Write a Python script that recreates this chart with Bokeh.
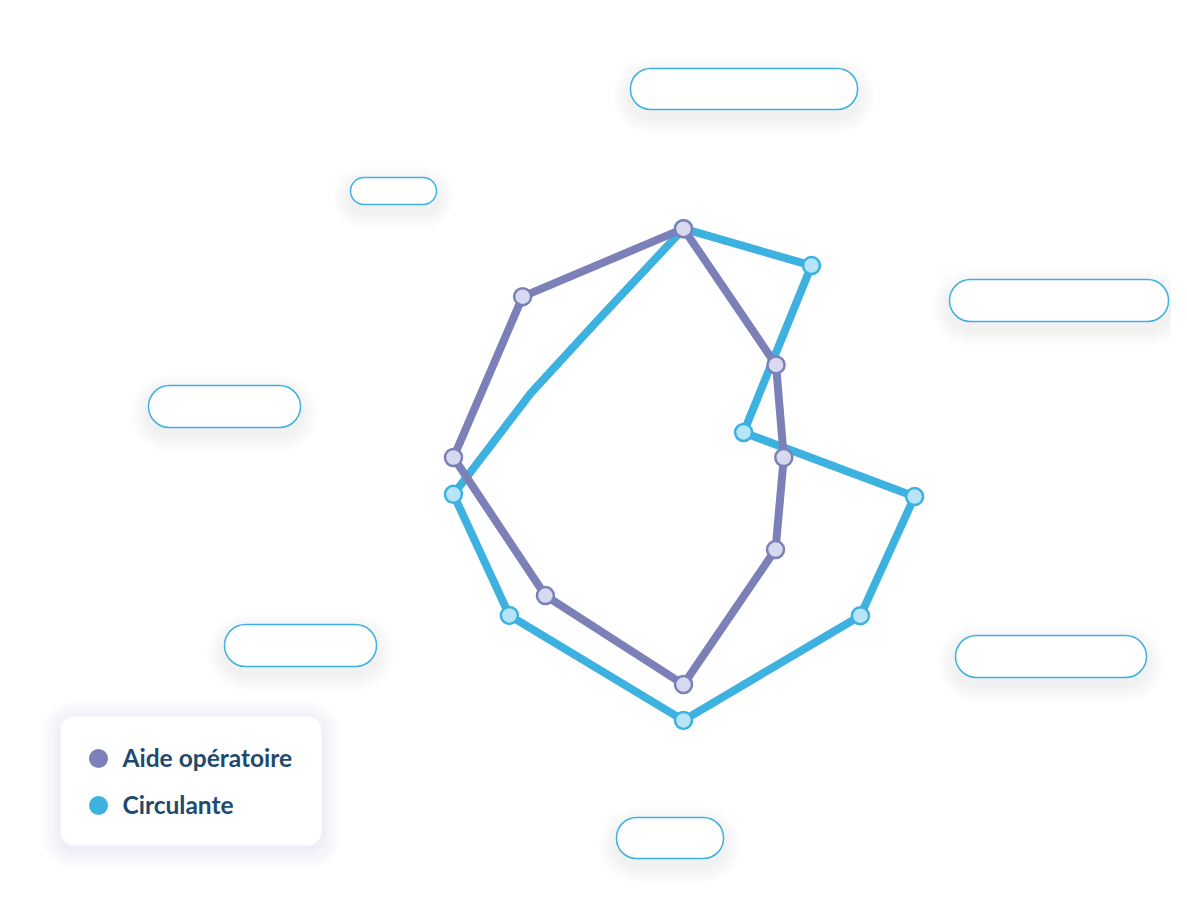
import math
from bokeh.plotting import figure
from bokeh.models import Range1d, BoxAnnotation
from bokeh.core.properties import value
from bokeh.embed import file_html
from bokeh.resources import INLINE

# ---------------- data ----------------
series_names = ["Aide opératoire", "Circulante"]

# Aide opératoire: 8 axes (degrees clockwise from top) and values (0-10 scale)
aide_angles = [0, 45, 90, 135, 180, 225, 270, 315]
aide_values = [9.95, 5.69, 4.36, 5.66, 9.87, 8.49, 10.0, 9.89]

# Circulante: vertices (degrees clockwise from top) and values
circ_angles = [0, 33.7, 67.4, 99.6, 131.8, 180, 227.8, 260.9, 292.7, 327.9]
circ_values = [9.95, 10.03, 2.83, 10.19, 10.32, 11.43, 10.22, 10.13, 7.21, 7.03]
circ_marker = [1, 1, 1, 1, 1, 1, 1, 1, 0, 0]

# empty category label pills: (left, top, right, bottom) in page pixels
label_boxes = [
    (630, 68, 857, 109),
    (350, 177, 436, 204),
    (949, 279, 1168, 321),
    (148, 385, 300, 427),
    (224, 624, 376, 666),
    (955, 635, 1146, 677),
    (616, 817, 723, 858),
]

# ---------------- styles ----------------
PURPLE = "#7b80b8"
PURPLE_FILL = "#d7daee"
CYAN = "#3db1df"
CYAN_FILL = "#b6e4f8"
TEXT = "#1f4a6d"

W, H = 1171, 893
PAGE_H = 909
CX, CY = 683, 457          # radar centre (page pixels)
PX_PER_UNIT = 23.0


def py(Y):
    return PAGE_H - Y


p = figure(width=W, height=H, output_backend="svg", toolbar_location=None,
           x_range=Range1d(0, W), y_range=Range1d(PAGE_H - H, PAGE_H),
           min_border=0)
p.axis.visible = False
p.grid.visible = False
p.outline_line_color = None
p.background_fill_color = "white"
p.border_fill_color = "white"


def polar_xy(angles, vals):
    xs, ys = [], []
    for a, v in zip(angles, vals):
        r = v * PX_PER_UNIT
        t = math.radians(a)
        xs.append(CX + r * math.sin(t))
        ys.append(py(CY) + r * math.cos(t))
    return xs, ys


def shadow_box(l, t, r, b, rad, layers=7, dy=7, alpha=0.011):
    for k in range(layers, 0, -1):
        e = k * 2.5
        p.add_layout(BoxAnnotation(left=l - e, right=r + e,
                                   top=py(t - e + dy), bottom=py(b + e + dy),
                                   border_radius=int(round(rad + e)),
                                   fill_color="#303840", fill_alpha=alpha,
                                   line_color=None, level="underlay"))


# label pills
for (l, t, r, b) in label_boxes:
    h = b - t
    shadow_box(l, t, r, b, h / 2)
    p.add_layout(BoxAnnotation(left=l, right=r, top=py(t), bottom=py(b),
                               border_radius=int(round(h / 2)),
                               fill_color="white", fill_alpha=1,
                               line_color=CYAN, line_alpha=1, line_width=1.5,
                               level="underlay"))

# radar series
ax, ay = polar_xy(aide_angles + aide_angles[:1], aide_values + aide_values[:1])
cx_, cy_ = polar_xy(circ_angles + circ_angles[:1], circ_values + circ_values[:1])

p.line(cx_, cy_, line_color=CYAN, line_width=8, line_join="round", line_cap="round")
p.line(ax, ay, line_color=PURPLE, line_width=8, line_join="round", line_cap="round")

mx, my = polar_xy([a for a, m in zip(circ_angles, circ_marker) if m],
                  [v for v, m in zip(circ_values, circ_marker) if m])
p.scatter(mx, my, marker="circle", size=17, fill_color=CYAN_FILL,
          line_color=CYAN, line_width=2.5)
px_, py_ = polar_xy(aide_angles, aide_values)
p.scatter(px_, py_, marker="circle", size=17, fill_color=PURPLE_FILL,
          line_color=PURPLE, line_width=2.5)

# legend box
LL, LT, LR, LB = 60, 716, 321, 845
shadow_box(LL, LT, LR, LB, 14, layers=8, dy=4, alpha=0.007)
p.add_layout(BoxAnnotation(left=LL, right=LR, top=py(LT), bottom=py(LB),
                           border_radius=14, fill_color="white", fill_alpha=1,
                           line_color=None, level="underlay"))

leg_y = [758, 805]
leg_colors = [PURPLE, CYAN]
p.scatter([98, 98], [py(y) for y in leg_y], marker="circle", size=19,
          fill_color=leg_colors, line_color=None)
p.text([122, 122], [py(y - 1.5) for y in leg_y], text=series_names,
       text_font=value("Lato"), text_font_size="24.5px", text_font_style="bold",
       text_color=TEXT, text_baseline="alphabetic", text_align="left")

open("out.html", "w").write(file_html(p, INLINE))
